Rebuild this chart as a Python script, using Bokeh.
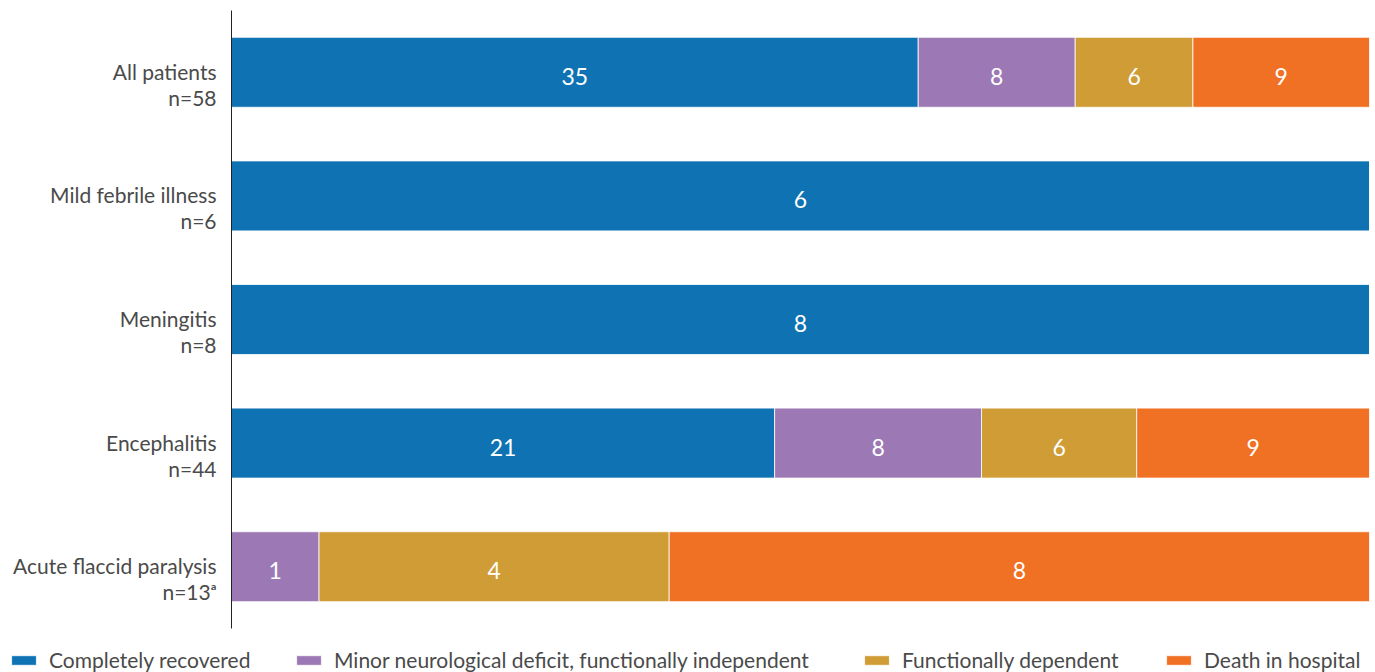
from bokeh.plotting import figure
from bokeh.models import ColumnDataSource, Range1d, Legend, LegendItem
from bokeh.core.properties import value
from bokeh.embed import file_html
from bokeh.resources import INLINE

names = ["All patients", "Mild febrile illness", "Meningitis", "Encephalitis",
         "Acute flaccid paralysis"]
ns = ["n=58", "n=6", "n=8", "n=44", "n=13\u1d43"]
series = ["Completely recovered", "Minor neurological deficit, functionally independent",
          "Functionally dependent", "Death in hospital"]
recovered = [35, 6, 8, 21, 0]
minor = [8, 0, 0, 8, 1]
dependent = [6, 0, 0, 6, 4]
death = [9, 0, 0, 9, 8]
colors = ["#0E72B3", "#9C78B4", "#CF9C35", "#F07024"]

W, H = 1375, 672
FRAME_L, FRAME_R, FRAME_T, FRAME_B = 231, 1369, 10, 628   # pixel layout of the bar area
FONT = "Lato"
TXT = "#4a4a4a"

counts = [recovered, minor, dependent, death]
keys = ["s0", "s1", "s2", "s3"]
ng = len(names)
totals = [sum(c[i] for c in counts) for i in range(ng)]
pos = list(range(ng))
data = {"y": pos}
for k, c in zip(keys, counts):
    data[k] = [v / t for v, t in zip(c, totals)]
source = ColumnDataSource(data)

# view ranges so that 0..1 spans the bar area and bands fill FRAME_T..FRAME_B
px_x = (FRAME_R - FRAME_L)
band = (FRAME_B - FRAME_T) / ng
x_range = Range1d(-FRAME_L / px_x, (W - FRAME_L) / px_x)
y_range = Range1d(ng - 0.5 + (H - FRAME_B) / band, -0.5 - FRAME_T / band)

p = figure(width=W, height=H, output_backend="svg", toolbar_location=None,
           x_range=x_range, y_range=y_range,
           min_border=0, min_border_left=0, min_border_right=0,
           min_border_top=0, min_border_bottom=0)
p.axis.visible = False
p.grid.visible = False
p.outline_line_color = None

renderers = p.hbar_stack(keys, y="y", height=0.566, color=colors, source=source,
                         line_color="white", line_width=0.8)

# axis line on the left of the bars
p.segment(x0=[0], y0=[-0.5], x1=[0], y1=[ng - 0.5], line_color="#222222", line_width=1)

# category labels
p.text(x=[0] * ng, y=pos, text=names, x_offset=-15, y_offset=-1, text_align="right",
       text_baseline="middle", text_font=value(FONT), text_font_size="21px",
       text_color=TXT)
p.text(x=[0] * ng, y=pos, text=ns, x_offset=-15, y_offset=25, text_align="right",
       text_baseline="middle", text_font=value(FONT), text_font_size="21px",
       text_color=TXT)

# segment labels
lx, ly, lt = [], [], []
for i in range(ng):
    left = 0.0
    for c in counts:
        frac = c[i] / totals[i]
        if c[i] > 0:
            lx.append(left + frac / 2)
            ly.append(i)
            lt.append(str(c[i]))
        left += frac
p.text(x=lx, y=ly, text=lt, y_offset=4, text_color="white", text_font=value(FONT),
       text_font_size="23px", text_align="center", text_baseline="middle")

# legend: one entry each, at the reference positions
leg_x = [8, 293, 861, 1163]
for s, r, lxp in zip(series, renderers, leg_x):
    lg = Legend(items=[LegendItem(label=s, renderers=[r])], location=(lxp, 0),
                glyph_width=31, glyph_height=12, label_standoff=10,
                padding=0, margin=0, background_fill_alpha=0, border_line_alpha=0,
                label_text_font=FONT, label_text_font_size="21px",
                label_text_color=TXT, label_height=24)
    p.add_layout(lg, "center")

open("out.html", "w").write(file_html(p, INLINE))
